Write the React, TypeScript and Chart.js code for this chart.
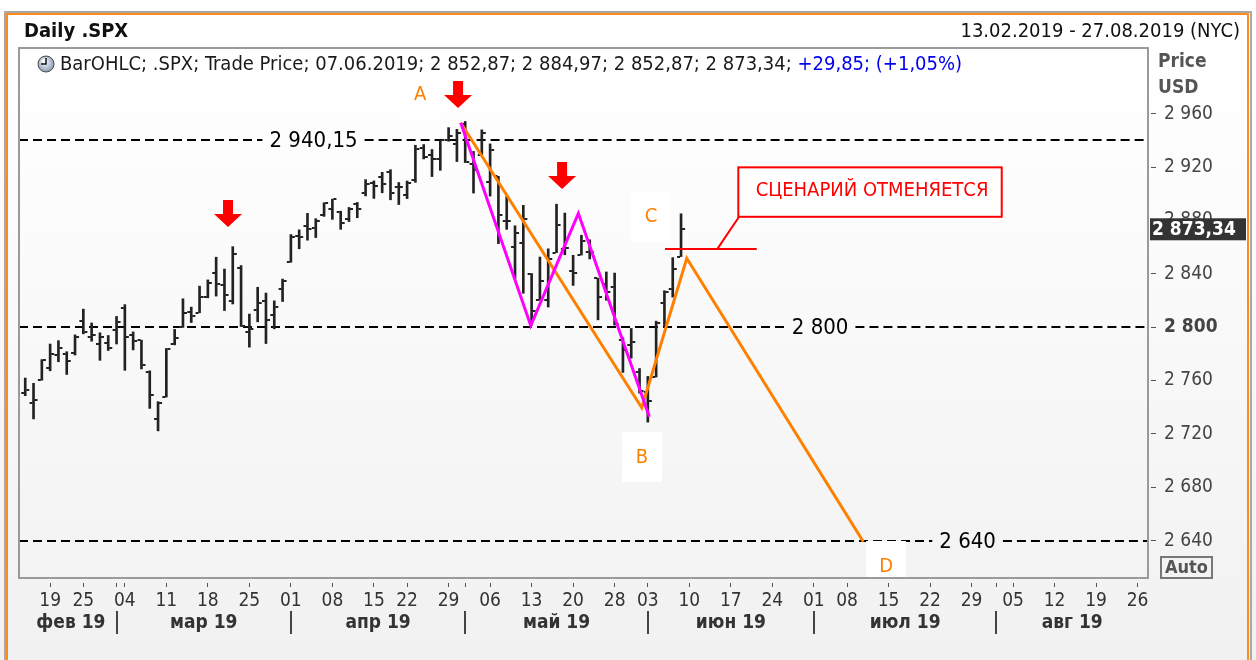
import React, { useEffect, useRef } from 'react';
import { Chart, registerables } from 'chart.js';

Chart.register(...registerables);

const FONT = '"DejaVu Sans Condensed", "DejaVu Sans", sans-serif';

// ---- Daily .SPX bars (trading-day index = position in the arrays, 13.02.2019 = 0)
const barDates = [
  '13.02', '14.02', '15.02', '19.02', '20.02', '21.02', '22.02', '25.02', '26.02', '27.02', '28.02',
  '01.03', '04.03', '05.03', '06.03', '07.03', '08.03', '11.03', '12.03', '13.03', '14.03', '15.03',
  '18.03', '19.03', '20.03', '21.03', '22.03', '25.03', '26.03', '27.03', '28.03', '29.03',
  '01.04', '02.04', '03.04', '04.04', '05.04', '08.04', '09.04', '10.04', '11.04', '12.04',
  '15.04', '16.04', '17.04', '18.04', '22.04', '23.04', '24.04', '25.04', '26.04', '29.04', '30.04',
  '01.05', '02.05', '03.05', '06.05', '07.05', '08.05', '09.05', '10.05', '13.05', '14.05', '15.05',
  '16.05', '17.05', '20.05', '21.05', '22.05', '23.05', '24.05', '28.05', '29.05', '30.05', '31.05',
  '03.06', '04.06', '05.06', '06.06', '07.06',
];
const opens = [
  2750.3, 2743.5, 2760.24, 2769.28, 2779.05, 2780.24, 2780.67, 2804.35, 2792.36, 2787.5, 2788.11,
  2798.22, 2814.37, 2794.41, 2790.27, 2766.53, 2730.79, 2747.61, 2787.34, 2799.78, 2811.48, 2810.79,
  2822.61, 2840.76, 2831.34, 2819.72, 2844.52, 2796.01, 2812.66, 2819.72, 2809.4, 2828.27,
  2848.63, 2868.24, 2876.09, 2873.99, 2884.16, 2888.46, 2886.58, 2881.37, 2891.92, 2900.86,
  2908.32, 2912.26, 2916.04, 2904.81, 2898.78, 2909.99, 2934.0, 2928.99, 2925.81, 2940.58, 2937.14,
  2952.33, 2922.16, 2929.21, 2908.89, 2913.03, 2879.61, 2859.84, 2863.1, 2840.19, 2820.12, 2820.38,
  2855.8, 2858.6, 2841.94, 2854.02, 2856.06, 2836.7, 2832.41, 2830.03, 2790.25, 2786.94, 2766.15,
  2751.53, 2762.64, 2818.09, 2828.51, 2852.87,
];
const highs = [
  2761.85, 2757.9, 2775.66, 2787.33, 2789.88, 2781.58, 2794.2, 2813.49, 2803.12, 2795.76, 2793.73,
  2808.02, 2816.88, 2796.44, 2790.27, 2767.25, 2744.13, 2784.0, 2798.32, 2821.24, 2815.0, 2830.73,
  2835.41, 2852.42, 2843.54, 2860.31, 2846.16, 2809.79, 2829.87, 2825.56, 2819.71, 2836.03,
  2869.4, 2872.9, 2885.25, 2881.28, 2893.24, 2895.95, 2886.88, 2889.71, 2893.42, 2910.54,
  2909.6, 2916.06, 2918.0, 2908.4, 2909.51, 2936.31, 2936.83, 2933.1, 2939.88, 2949.52, 2948.22,
  2954.13, 2931.68, 2947.85, 2937.32, 2913.03, 2897.96, 2875.97, 2891.31, 2840.19, 2852.54, 2858.68,
  2892.15, 2885.48, 2853.86, 2868.88, 2865.47, 2836.7, 2841.36, 2840.51, 2792.03, 2799.0, 2768.98,
  2763.07, 2804.49, 2827.28, 2852.1, 2884.97,
];
const lows = [
  2748.63, 2731.23, 2760.24, 2767.29, 2774.06, 2764.55, 2779.11, 2794.99, 2789.47, 2775.13, 2782.51,
  2787.38, 2767.66, 2782.97, 2768.69, 2739.09, 2722.27, 2747.61, 2786.73, 2799.78, 2803.46, 2810.79,
  2821.99, 2823.27, 2812.43, 2817.38, 2800.47, 2785.02, 2803.99, 2787.72, 2798.77, 2819.23,
  2848.63, 2858.75, 2865.17, 2867.14, 2882.99, 2880.78, 2873.33, 2879.13, 2881.99, 2898.37,
  2896.48, 2900.71, 2895.45, 2891.9, 2896.35, 2908.53, 2926.05, 2912.84, 2917.56, 2939.35, 2924.11,
  2923.36, 2900.5, 2929.21, 2898.21, 2862.6, 2873.28, 2836.4, 2825.39, 2801.43, 2820.12, 2815.08,
  2855.8, 2854.23, 2831.29, 2854.02, 2851.11, 2805.49, 2820.19, 2801.58, 2766.06, 2776.74, 2750.52,
  2728.81, 2762.64, 2800.92, 2822.45, 2852.87,
];
const closes = [
  2753.03, 2745.73, 2775.6, 2779.76, 2784.7, 2774.88, 2792.67, 2796.11, 2793.9, 2792.38, 2784.49,
  2803.69, 2792.81, 2789.65, 2771.45, 2748.93, 2743.07, 2783.3, 2791.52, 2810.92, 2808.48, 2822.48,
  2832.94, 2832.57, 2824.23, 2854.88, 2800.71, 2798.36, 2818.46, 2805.37, 2815.44, 2834.4,
  2867.19, 2867.24, 2873.4, 2879.39, 2892.74, 2895.77, 2878.2, 2888.21, 2888.32, 2907.41,
  2905.58, 2907.06, 2900.45, 2905.03, 2907.97, 2933.68, 2927.25, 2926.17, 2939.88, 2943.03, 2945.83,
  2923.73, 2917.52, 2945.64, 2932.47, 2884.05, 2879.42, 2870.72, 2881.4, 2811.87, 2834.41, 2850.96,
  2876.32, 2859.53, 2840.23, 2864.36, 2856.27, 2822.24, 2826.06, 2802.39, 2783.02, 2788.86, 2752.06,
  2744.45, 2803.27, 2826.15, 2843.49, 2873.34,
];

// ---- time axis (trading-day index)
const X_MIN = -0.75;
const X_MAX = 135.25;
const xTickIndex = [3, 7, 12, 17, 22, 27, 32, 37, 42, 46, 51, 56, 61, 66, 71, 75, 80, 85, 90, 95, 99, 104, 109, 114, 119, 124, 129, 134];
const xTickLabels = ['19', '25', '04', '11', '18', '25', '01', '08', '15', '22', '29', '06', '13', '20', '28', '03', '10', '17', '24', '01', '08', '15', '22', '29', '05', '12', '19', '26'];
const monthStartIndex = [0, 11, 32, 53, 75, 95, 117];
const monthLabels = ['фев 19', 'мар 19', 'апр 19', 'май 19', 'июн 19', 'июл 19', 'авг 19'];

// ---- price axis
const Y_MIN = 2612;
const Y_MAX = 3009.2;
const yTickValues = [2640, 2680, 2720, 2760, 2800, 2840, 2880, 2920, 2960];
const lastPrice = 2873.34;

// ---- horizontal levels
const levelValues = [2940.15, 2800, 2640];
const levelLabels = ['2 940,15', '2 800', '2 640'];
const levelLabelIndex = [34.73, 95.75, 113.52];

// ---- wave lines
const abcdIndex = [52.46, 74.27, 79.69, 100.96];
const abcdValues = [2953.2, 2739.6, 2851.6, 2639.2];
const zigzagIndex = [52.46, 60.9, 66.63, 75.18];
const zigzagValues = [2953.2, 2801.1, 2885.3, 2732.9];

const pointLetters = ['A', 'B', 'C', 'D'];
const letterIndex = [47.56, 74.3, 75.39, 103.7];
const letterValues = [2974.7, 2702.7, 2883.3, 2621];

const arrowIndex = [24.43, 52.14, 64.67];
const arrowTipValues = [2875.0, 2964.2, 2903.5];

// ---- cancel note
const cancelValue = 2858.5;
const cancelFromIndex = 77.07;
const cancelToIndex = 88.12;
const noteText = 'СЦЕНАРИЙ ОТМЕНЯЕТСЯ';
const noteIndex = [85.9, 117.63];
const noteValues = [2919.75, 2882.7];
const pointerIndex = [83.36, 85.99];

const fmtThousands = (v: number) => {
  const s = String(Math.round(v));
  return s.length > 3 ? s.slice(0, -3) + ' ' + s.slice(-3) : s;
};

function tickCanvas(side: 'left' | 'right', color: string) {
  const c = document.createElement('canvas');
  c.width = 10;
  c.height = 2;
  const g = c.getContext('2d')!;
  g.fillStyle = color;
  if (side === 'left') g.fillRect(1, 0, 3, 2);
  else g.fillRect(6, 0, 3, 2);
  return c;
}

const overlayPlugin = {
  id: 'overlay',
  beforeDraw(chart: any) {
    const { ctx, width, height } = chart;
    ctx.save();
    const g = ctx.createLinearGradient(0, 0, 0, height);
    g.addColorStop(0, '#ffffff');
    g.addColorStop(0.1, '#ffffff');
    g.addColorStop(1, '#f1f1f1');
    ctx.fillStyle = g;
    ctx.fillRect(0, 0, width, height);
    ctx.restore();
  },
  beforeDatasetsDraw(chart: any) {
    const { ctx, chartArea } = chart;
    const xs = chart.scales.x;
    const ys = chart.scales.y;
    ctx.save();
    ctx.font = `22px ${FONT}`;
    ctx.textBaseline = 'middle';
    ctx.textAlign = 'center';
    levelValues.forEach((v, k) => {
      const y = Math.round(ys.getPixelForValue(v));
      const cx = xs.getPixelForValue(levelLabelIndex[k]);
      const w = ctx.measureText(levelLabels[k]).width;
      ctx.strokeStyle = '#000';
      ctx.lineWidth = 2;
      ctx.setLineDash([9, 5]);
      ctx.beginPath();
      ctx.moveTo(chartArea.left, y);
      ctx.lineTo(cx - w / 2 - 7, y);
      ctx.moveTo(cx + w / 2 + 7, y);
      ctx.lineTo(chartArea.right, y);
      ctx.stroke();
      ctx.setLineDash([]);
      ctx.fillStyle = '#000';
      ctx.fillText(levelLabels[k], cx, y + 1);
    });
    ctx.restore();
  },
  afterDatasetsDraw(chart: any) {
    const { ctx, chartArea } = chart;
    const xs = chart.scales.x;
    const ys = chart.scales.y;
    ctx.save();
    // red arrows
    ctx.fillStyle = '#ff0000';
    arrowIndex.forEach((i, k) => {
      const cx = xs.getPixelForValue(i);
      const ty = ys.getPixelForValue(arrowTipValues[k]);
      ctx.beginPath();
      ctx.moveTo(cx - 5, ty - 27);
      ctx.lineTo(cx + 5, ty - 27);
      ctx.lineTo(cx + 5, ty - 13);
      ctx.lineTo(cx + 14, ty - 13);
      ctx.lineTo(cx, ty);
      ctx.lineTo(cx - 14, ty - 13);
      ctx.lineTo(cx - 5, ty - 13);
      ctx.closePath();
      ctx.fill();
    });
    // letter boxes
    ctx.save();
    ctx.beginPath();
    ctx.rect(chartArea.left, chartArea.top, chartArea.right - chartArea.left, chartArea.bottom - chartArea.top);
    ctx.clip();
    ctx.font = `20px ${FONT}`;
    ctx.textAlign = 'center';
    ctx.textBaseline = 'middle';
    pointLetters.forEach((t, k) => {
      const cx = xs.getPixelForValue(letterIndex[k]);
      const cy = ys.getPixelForValue(letterValues[k]);
      ctx.fillStyle = '#ffffff';
      ctx.fillRect(cx - 20, cy - 25, 40, 50);
      ctx.fillStyle = '#ff8000';
      ctx.fillText(t, cx, cy + 1);
    });
    ctx.restore();
    // cancel line + note
    const cy = ys.getPixelForValue(cancelValue);
    ctx.strokeStyle = '#ff0000';
    ctx.lineWidth = 2;
    ctx.beginPath();
    ctx.moveTo(xs.getPixelForValue(cancelFromIndex), cy);
    ctx.lineTo(xs.getPixelForValue(cancelToIndex), cy);
    ctx.moveTo(xs.getPixelForValue(pointerIndex[0]), cy);
    ctx.lineTo(xs.getPixelForValue(pointerIndex[1]), ys.getPixelForValue(noteValues[1]));
    ctx.stroke();
    const bx0 = xs.getPixelForValue(noteIndex[0]);
    const bx1 = xs.getPixelForValue(noteIndex[1]);
    const by0 = ys.getPixelForValue(noteValues[0]);
    const by1 = ys.getPixelForValue(noteValues[1]);
    ctx.fillStyle = '#ffffff';
    ctx.fillRect(bx0, by0, bx1 - bx0, by1 - by0);
    ctx.strokeRect(bx0, by0, bx1 - bx0, by1 - by0);
    ctx.fillStyle = '#ff0000';
    ctx.font = `20px ${FONT}`;
    ctx.textAlign = 'center';
    ctx.textBaseline = 'middle';
    ctx.fillText(noteText, (bx0 + bx1) / 2 + 2, (by0 + by1) / 2 - 1);
    ctx.restore();
  },
  afterDraw(chart: any) {
    const { ctx, chartArea, height } = chart;
    const xs = chart.scales.x;
    const ys = chart.scales.y;
    ctx.save();
    // plot frame
    ctx.strokeStyle = '#9a9a9a';
    ctx.lineWidth = 2;
    ctx.strokeRect(chartArea.left, chartArea.top, chartArea.right - chartArea.left, chartArea.bottom - chartArea.top);

    // header
    ctx.textBaseline = 'middle';
    ctx.fillStyle = '#111';
    ctx.font = `bold 20px ${FONT}`;
    ctx.textAlign = 'left';
    ctx.fillText('Daily .SPX', 24, 32);
    ctx.font = `20px ${FONT}`;
    ctx.textAlign = 'right';
    ctx.fillText('13.02.2019 - 27.08.2019 (NYC)', 1240, 32);

    // legend row
    const ix = 46, iy = 64;
    const rg = ctx.createRadialGradient(ix - 2, iy - 3, 1, ix, iy, 9);
    rg.addColorStop(0, '#ffffff');
    rg.addColorStop(1, '#7f93ad');
    ctx.fillStyle = rg;
    ctx.beginPath();
    ctx.arc(ix, iy, 8, 0, Math.PI * 2);
    ctx.fill();
    ctx.strokeStyle = '#4a4a4a';
    ctx.lineWidth = 1;
    ctx.stroke();
    ctx.strokeStyle = '#111';
    ctx.lineWidth = 1.5;
    ctx.beginPath();
    ctx.moveTo(ix, iy - 6);
    ctx.lineTo(ix, iy);
    ctx.lineTo(ix - 5, iy);
    ctx.stroke();
    ctx.textAlign = 'left';
    ctx.font = `20px ${FONT}`;
    const part1 = 'BarOHLC; .SPX; Trade Price; 07.06.2019; 2 852,87; 2 884,97; 2 852,87; 2 873,34; ';
    ctx.fillStyle = '#1a1a1a';
    ctx.fillText(part1, 60, 65);
    const w1 = ctx.measureText(part1).width;
    ctx.fillStyle = '#0000ee';
    ctx.fillText('+29,85; (+1,05%)', 60 + w1, 65);

    // axis title
    ctx.fillStyle = '#555';
    ctx.font = `bold 19px ${FONT}`;
    ctx.fillText('Price', 1158, 62);
    ctx.fillText('USD', 1158, 88);

    // last price box
    const py = ys.getPixelForValue(lastPrice);
    ctx.fillStyle = '#333333';
    ctx.fillRect(chartArea.right + 2, py - 11, 96, 22);
    ctx.fillStyle = '#ffffff';
    ctx.font = `bold 19px ${FONT}`;
    ctx.fillText(fmtThousands(Math.floor(lastPrice)) + ',' + String(Math.round((lastPrice % 1) * 100)).padStart(2, '0'), chartArea.right + 4, py + 1);

    // Auto box
    ctx.strokeStyle = '#777';
    ctx.lineWidth = 2;
    ctx.strokeRect(1161, 557, 51, 21);
    ctx.fillStyle = '#555';
    ctx.font = `bold 18px ${FONT}`;
    ctx.textAlign = 'center';
    ctx.fillText('Auto', 1186.5, 568);

    // month row
    ctx.font = `bold 19px ${FONT}`;
    ctx.fillStyle = '#333';
    monthLabels.forEach((m, k) => {
      const a = monthStartIndex[k];
      const b = k + 1 < monthStartIndex.length ? monthStartIndex[k + 1] : X_MAX;
      ctx.fillText(m, xs.getPixelForValue((a + b) / 2), 623);
    });
    ctx.strokeStyle = '#444';
    ctx.lineWidth = 2;
    monthStartIndex.slice(1).forEach((i) => {
      const x = Math.round(xs.getPixelForValue(i));
      ctx.beginPath();
      ctx.moveTo(x, 611);
      ctx.lineTo(x, 634);
      ctx.stroke();
    });

    // outer frame
    ctx.strokeStyle = '#a8a8a8';
    ctx.lineWidth = 2;
    ctx.strokeRect(5, 12, 1246, height + 10);
    ctx.strokeStyle = '#ff8c1a';
    ctx.strokeRect(7, 14, 1241, height + 10);
    ctx.restore();
  },
};

export default function App() {
  const ref = useRef<HTMLCanvasElement>(null);
  useEffect(() => {
    const canvas = ref.current!;
    const openTick = tickCanvas('left', '#222');
    const closeTick = tickCanvas('right', '#222');
    const allTicks = Array.from(new Set([...xTickIndex, ...monthStartIndex.slice(1)])).sort((a, b) => a - b);
    const labelFor = (v: number) => {
      const k = xTickIndex.indexOf(v);
      return k >= 0 ? xTickLabels[k] : '';
    };
    const chart = new Chart(canvas, {
      type: 'bar',
      data: {
        datasets: [
          {
            type: 'line',
            label: 'zigzag',
            data: zigzagIndex.map((x, k) => ({ x, y: zigzagValues[k] })),
            borderColor: '#ff00ff',
            borderWidth: 3,
            pointRadius: 0,
            tension: 0,
            fill: false,
            order: 0,
          } as any,
          {
            type: 'line',
            label: 'ABCD',
            data: abcdIndex.map((x, k) => ({ x, y: abcdValues[k] })),
            borderColor: '#ff8000',
            borderWidth: 3,
            pointRadius: 0,
            tension: 0,
            fill: false,
            order: 1,
          } as any,
          {
            type: 'line',
            label: 'open',
            data: opens.map((y, i) => ({ x: i, y })),
            showLine: false,
            pointStyle: openTick,
            pointRadius: 3,
            order: 2,
          } as any,
          {
            type: 'line',
            label: 'close',
            data: closes.map((y, i) => ({ x: i, y })),
            showLine: false,
            pointStyle: closeTick,
            pointRadius: 3,
            order: 2,
          } as any,
          {
            type: 'bar',
            label: barDates.length ? 'range' : '',
            data: lows.map((l, i) => ({ x: i, y: [l, highs[i]] })),
            backgroundColor: '#222222',
            borderWidth: 0,
            barThickness: 2,
            grouped: false,
            order: 3,
          } as any,
        ],
      },
      options: {
        animation: false,
        responsive: false,
        devicePixelRatio: 1,
        events: [],
        layout: { padding: { left: 19, top: 48, right: 0, bottom: 0 } },
        plugins: { legend: { display: false }, tooltip: { enabled: false } },
        scales: {
          x: {
            type: 'linear',
            min: X_MIN,
            max: X_MAX,
            offset: false,
            afterBuildTicks: (s: any) => {
              s.ticks = allTicks.map((v) => ({ value: v }));
            },
            afterFit: (s: any) => {
              s.height = 82;
            },
            border: { display: false },
            grid: {
              offset: false,
              drawOnChartArea: false,
              drawTicks: true,
              tickLength: 10,
              tickWidth: 1,
              tickColor: '#555',
              tickBorderDash: [0, 5, 4, 100],
            },
            ticks: {
              autoSkip: false,
              maxRotation: 0,
              minRotation: 0,
              padding: 2,
              color: '#333',
              font: { family: FONT, size: 19 },
              callback: (v: any) => labelFor(Number(v)),
            },
          } as any,
          y: {
            type: 'linear',
            position: 'right',
            min: Y_MIN,
            max: Y_MAX,
            afterBuildTicks: (s: any) => {
              s.ticks = yTickValues.map((v) => ({ value: v }));
            },
            afterFit: (s: any) => {
              s.width = 108;
            },
            border: { display: false },
            grid: {
              drawOnChartArea: false,
              drawTicks: true,
              tickLength: 9,
              tickWidth: 1,
              tickColor: '#555',
              tickBorderDash: [0, 3, 5, 100],
            },
            ticks: {
              padding: 7,
              color: '#444',
              font: (c: any) => ({ family: FONT, size: 19, weight: c.tick && c.tick.value === 2800 ? 'bold' : 'normal' }),
              callback: (v: any) => fmtThousands(Number(v)),
            },
          } as any,
        },
      },
      plugins: [overlayPlugin],
    });
    return () => chart.destroy();
  }, []);
  return (
    <div style={{ position: 'fixed', left: 0, top: 0, width: 1256, height: 660 }}>
      <canvas ref={ref} width={1256} height={660} style={{ display: 'block' }} />
    </div>
  );
}
